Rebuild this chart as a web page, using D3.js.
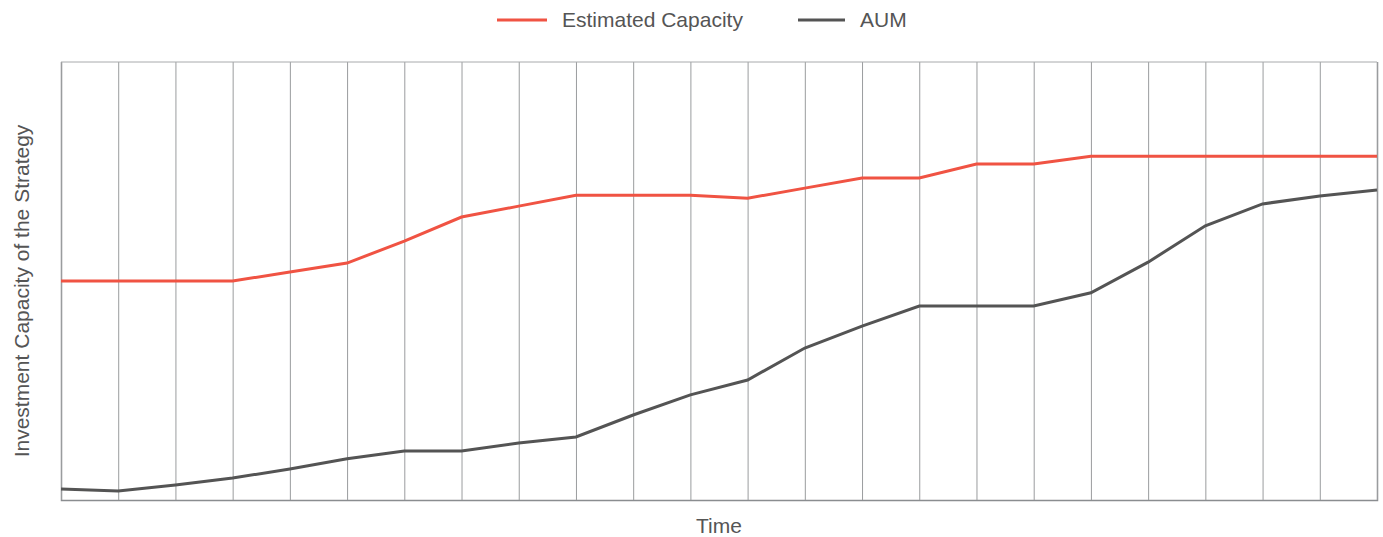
<!DOCTYPE html>
<html><head><meta charset="utf-8">
<script src="https://cdn.jsdelivr.net/npm/d3@7"></script>
<style>body{margin:0;background:#fff}svg{display:block;font-family:"Liberation Sans",Arial,sans-serif}</style>
</head><body><svg id="c" width="1383" height="537"></svg>
<script>
const periods = d3.range(24);
const estimatedCapacity = [50.0,50.0,50.0,50.0,52.05,54.1,59.1,64.6,67.1,69.6,69.6,69.6,68.9,71.2,73.5,73.5,76.7,76.7,78.5,78.5,78.5,78.5,78.5,78.5];
const aum = [2.5,2.05,3.4,5.0,7.1,9.4,11.2,11.2,13.0,14.4,19.4,24.0,27.4,34.7,39.7,44.3,44.3,44.3,47.3,54.3,62.6,67.6,69.4,70.8];
const seriesNames = ["Estimated Capacity","AUM"];
const colors = ["#f05343","#545454"];

const svg = d3.select("#c");
const m = {l:61, r:6, t:62, b:37};
const W = 1383, H = 537;
const x = d3.scaleLinear().domain([0,23]).range([m.l, W-m.r]);
const y = d3.scaleLinear().domain([0,100]).range([H-m.b, m.t]);

// grid
const gx = svg.append("g").attr("transform",`translate(0,${H-m.b})`)
  .call(d3.axisBottom(x).tickValues(periods).tickSize(-(H-m.b-m.t)).tickFormat(""));
gx.select(".domain").attr("stroke","#8a8d90").attr("stroke-width",1.5);
gx.selectAll(".tick line").attr("stroke","#9a9c9e").attr("stroke-width",1);
// top border
svg.append("line").attr("x1",m.l).attr("x2",W-m.r).attr("y1",m.t).attr("y2",m.t).attr("stroke","#a8aaac");

const line = d3.line().x((d,i)=>x(i)).y(d=>y(d));
[estimatedCapacity, aum].forEach((s,k)=>{
  svg.append("path").datum(s).attr("d",line).attr("fill","none")
    .attr("stroke",colors[k]).attr("stroke-width",3).attr("stroke-linejoin","miter");
});

// legend
const leg = [{x1:497,x2:547,tx:562},{x1:798,x2:845,tx:860}];
seriesNames.forEach((n,k)=>{
  svg.append("line").attr("x1",leg[k].x1).attr("x2",leg[k].x2).attr("y1",20).attr("y2",20)
    .attr("stroke",colors[k]).attr("stroke-width",3);
  svg.append("text").attr("x",leg[k].tx).attr("y",27).attr("fill","#555").attr("font-size",21).text(n);
});

svg.append("text").attr("x",(m.l+W-m.r)/2).attr("y",533).attr("text-anchor","middle")
  .attr("fill","#555").attr("font-size",21).text("Time");
svg.append("text").attr("transform",`translate(29,291) rotate(-90)`).attr("text-anchor","middle")
  .attr("fill","#555").attr("font-size",21).text("Investment Capacity of the Strategy");
</script></body></html>
